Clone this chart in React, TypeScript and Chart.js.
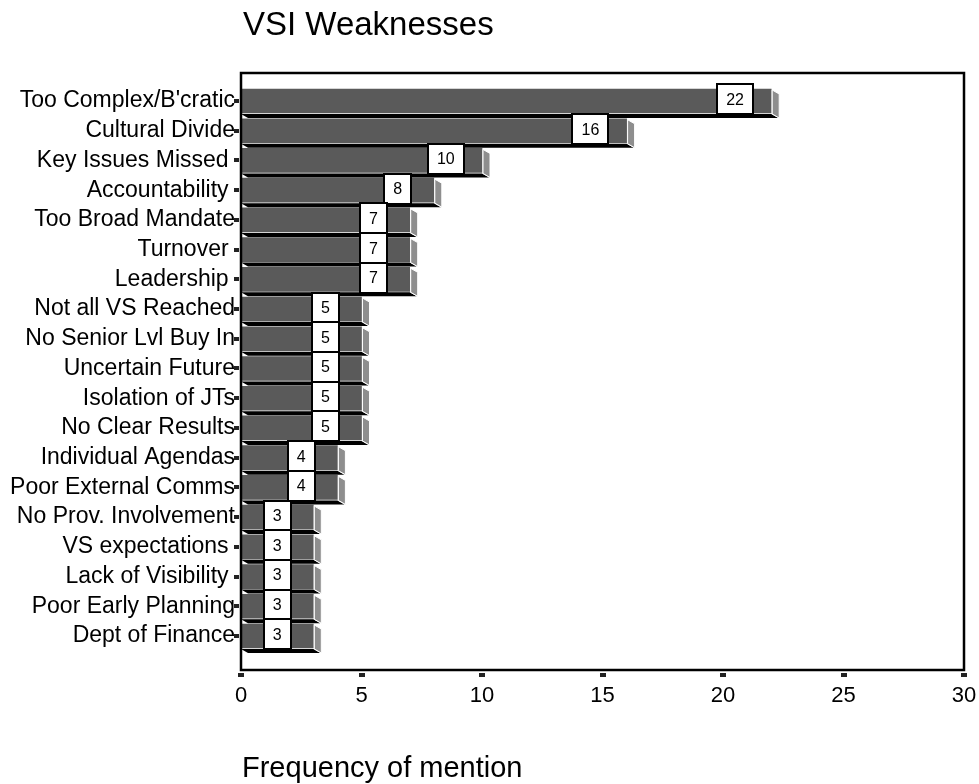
import React, { useEffect, useRef } from "react";
import { Chart, registerables } from "chart.js";

Chart.register(...registerables);

// ---- data ----
const categories: string[] = [
  "Too Complex/B'cratic",
  "Cultural Divide",
  "Key Issues Missed ",
  "Accountability ",
  "Too Broad Mandate",
  "Turnover ",
  "Leadership ",
  "Not all VS Reached",
  "No Senior Lvl Buy In",
  "Uncertain Future",
  "Isolation of JTs",
  "No Clear Results",
  "Individual Agendas",
  "Poor External Comms",
  "No Prov. Involvement",
  "VS expectations ",
  "Lack of Visibility ",
  "Poor Early Planning",
  "Dept of Finance",
];
const frequencies: number[] = [22, 16, 10, 8, 7, 7, 7, 5, 5, 5, 5, 5, 4, 4, 3, 3, 3, 3, 3];
const xMin = 0;
const xMax = 30;
const xStep = 5;
const chartTitle = "VSI Weaknesses";
const xAxisTitle = "Frequency of mention";

const FONT = '"Liberation Sans", Arial, Helvetica, sans-serif';
const DX = 7;
const DY = 4;

const decorPlugin = {
  id: "decor",
  afterDatasetsDraw(chart: any) {
    const ctx: CanvasRenderingContext2D = chart.ctx;
    const meta = chart.getDatasetMeta(0);
    const xs = chart.scales.x;
    ctx.save();
    // 3D faces
    meta.data.forEach((el: any) => {
      const { x, y, base, height } = el.getProps(["x", "y", "base", "height"], true);
      const top = y - height / 2;
      const bottom = y + height / 2;
      // bottom face
      ctx.beginPath();
      ctx.moveTo(base, bottom + 1);
      ctx.lineTo(x, bottom + 1);
      ctx.lineTo(x + DX, bottom + 1 + DY);
      ctx.lineTo(base + DX, bottom + 1 + DY);
      ctx.closePath();
      ctx.fillStyle = "#000";
      ctx.fill();
      // side face
      ctx.beginPath();
      ctx.moveTo(x + 1, top + 1);
      ctx.lineTo(x + 1 + DX, top + 1 + DY);
      ctx.lineTo(x + 1 + DX, bottom + 1 + DY);
      ctx.lineTo(x + 1, bottom + 1);
      ctx.closePath();
      ctx.fillStyle = "#8e8e8e";
      ctx.fill();
      ctx.strokeStyle = "#ffffff";
      ctx.lineWidth = 1;
      ctx.stroke();
    });
    // value boxes
    ctx.font = `16px ${FONT}`;
    ctx.textAlign = "center";
    ctx.textBaseline = "middle";
    meta.data.forEach((el: any, i: number) => {
      const v = frequencies[i];
      const { y } = el.getProps(["y"], true);
      const cx = xs.getPixelForValue(v - 1.5);
      const label = String(v);
      const tw = ctx.measureText(label).width;
      const w = Math.round(tw + 18);
      const h = 30;
      const cy = y - 1.5;
      const bx = Math.round(cx - w / 2);
      const by = Math.round(cy - h / 2);
      ctx.fillStyle = "#fff";
      ctx.fillRect(bx, by, w, h);
      ctx.strokeStyle = "#000";
      ctx.lineWidth = 2;
      ctx.strokeRect(bx, by, w, h);
      ctx.fillStyle = "#000";
      ctx.fillText(label, cx, cy + 1);
    });
    ctx.restore();
  },
  afterDraw(chart: any) {
    const ctx: CanvasRenderingContext2D = chart.ctx;
    const { left, right, top, bottom } = chart.chartArea;
    const xs = chart.scales.x;
    const ys = chart.scales.y;
    ctx.save();
    // frame
    ctx.strokeStyle = "#000";
    ctx.lineWidth = 2.5;
    ctx.strokeRect(left, top, right - left, bottom - top);
    // tick squares
    ctx.fillStyle = "#222";
    ys.ticks.forEach((t: any) => {
      const py = ys.getPixelForValue(t.value);
      ctx.fillRect(left - 7, Math.round(py) - 2, 5, 4);
    });
    xs.ticks.forEach((t: any) => {
      const px = xs.getPixelForValue(t.value);
      ctx.fillRect(Math.round(px) - 3, bottom + 3, 6, 4);
    });
    // titles
    ctx.fillStyle = "#000";
    ctx.textAlign = "left";
    ctx.textBaseline = "alphabetic";
    ctx.font = `33px ${FONT}`;
    ctx.fillText(chartTitle, left + 2, 35);
    ctx.font = `29px ${FONT}`;
    ctx.fillText(xAxisTitle, left + 1, 777);
    ctx.restore();
  },
};

export default function App() {
  const ref = useRef<HTMLCanvasElement | null>(null);
  useEffect(() => {
    if (!ref.current) return;
    const chart = new Chart(ref.current, {
      type: "bar",
      data: {
        datasets: [
          {
            data: frequencies.map((v, i) => ({ x: v, y: i })) as any,
            backgroundColor: "#5a5a5a",
            borderWidth: 0,
            barThickness: 24,
          },
        ],
      },
      options: {
        indexAxis: "y",
        responsive: false,
        animation: false,
        devicePixelRatio: 1,
        layout: { padding: { top: 73, right: 15, left: 0, bottom: 0 } },
        plugins: {
          legend: { display: false },
          tooltip: { enabled: false },
          title: { display: false },
        },
        scales: {
          x: {
            type: "linear",
            position: "bottom",
            min: xMin,
            max: xMax,
            offset: false,
            grid: { display: false, drawTicks: false },
            border: { display: false },
            ticks: {
              stepSize: xStep,
              color: "#000",
              padding: 13,
              font: { size: 22, family: FONT },
            },
            afterFit: (s: any) => {
              s.height = 114;
              s.paddingRight = 0;
              s.paddingLeft = 0;
            },
          },
          y: {
            type: "linear",
            position: "left",
            reverse: true,
            offset: false,
            min: -0.942,
            max: 19.144,
            bounds: "data",
            grid: { display: false, drawTicks: false },
            border: { display: false },
            afterBuildTicks: (s: any) => {
              s.ticks = categories.map((_, i) => ({ value: i }));
            },
            ticks: {
              autoSkip: false,
              color: "#000",
              padding: 6,
              font: { size: 23, family: FONT },
              callback: (v: any) => categories[v as number],
            },
            afterFit: (s: any) => {
              s.width = 241;
              s.paddingTop = 0;
              s.paddingBottom = 0;
            },
          },
        },
      },
      plugins: [decorPlugin],
    });
    return () => chart.destroy();
  }, []);
  return (
    <div style={{ position: "fixed", left: 0, top: 0, width: 979, height: 784, background: "#fff" }}>
      <canvas ref={ref} width={979} height={784} style={{ display: "block" }} />
    </div>
  );
}
